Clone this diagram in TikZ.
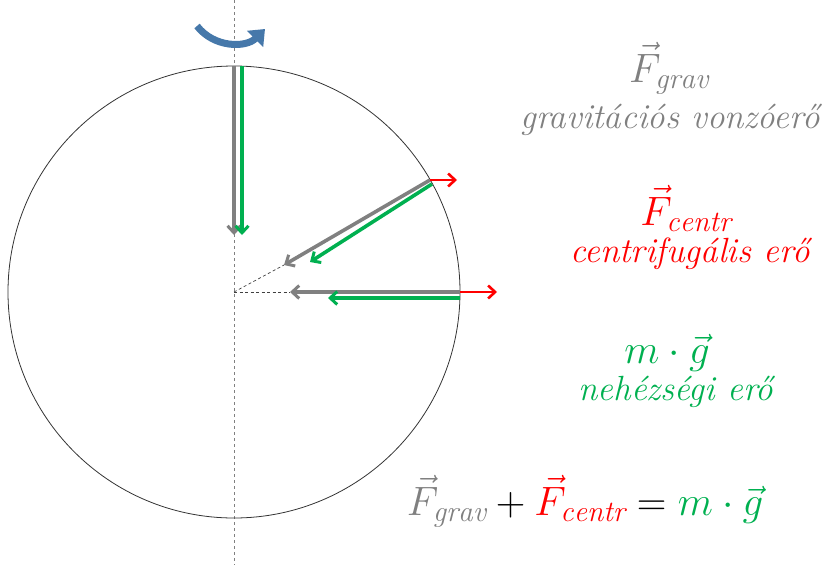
\documentclass[tikz,border=0pt]{standalone}
\usepackage{fix-cm}
\usepackage{fontspec}
\usetikzlibrary{arrows.meta}
\DeclareMathSizes{41}{41}{29.5}{22}
\definecolor{fgray}{RGB}{128,128,128}
\definecolor{fgreen}{RGB}{0,176,80}
\definecolor{fred}{RGB}{255,0,0}
\definecolor{rotblue}{RGB}{70,120,170}
\tikzset{
  vecarrow/.style={line width=3.6pt, -{Straight Barb[length=7pt,width=13pt,line width=3pt]}},
  gravarrow/.style={vecarrow, draw=fgray},
  greenarrow/.style={vecarrow, draw=fgreen},
  redarrow/.style={line width=2.6pt, draw=fred, -{Straight Barb[length=7pt,width=13pt,line width=2.6pt]}},
  axisline/.style={fgray, line width=0.8pt, dash pattern=on 3pt off 3pt},
  helpline/.style={black!75, line width=0.7pt, dash pattern=on 3pt off 2.5pt},
  lbl/.style={anchor=base, inner sep=0pt},
  mathlbl/.style={lbl, font=\fontsize{41}{46}\selectfont},
  textlbl/.style={lbl, font=\fontsize{35}{40}\selectfont\itshape},
}
\begin{document}
\begin{tikzpicture}[x=1pt,y=-1pt]
\useasboundingbox (0,0) rectangle (834,565);
% axis
\coordinate (axtop) at (234,0);
\coordinate (axbot) at (234,565);
\draw[axisline] (axtop) -- (axbot);
% circle
\coordinate (C) at (234,292);
\draw[black!80, line width=0.8pt] (C) circle[radius=226];
% rotation arrow
\coordinate (r1) at (197,26);
\coordinate (r2) at (265,29);
\draw[rotblue, line width=7pt, -{Triangle[length=14pt,width=22pt]}] (r1) .. controls (214,48) and (246,48) .. (r2);
% points
\coordinate (T) at (234,66);
\coordinate (Tg) at (242,66);
\coordinate (Ta) at (234,235);
\coordinate (Tga) at (242,235);
\coordinate (P) at (430,180);
\coordinate (Pg) at (432,184);
\coordinate (Pa) at (284,265);
\coordinate (Pga) at (310,262);
\coordinate (Pr) at (457,180);
\coordinate (Q) at (460,292);
\coordinate (Qg) at (460,298);
\coordinate (Qa) at (290,292);
\coordinate (Qga) at (328,298);
\coordinate (Qr) at (497,292);
% helper dashed lines
\draw[helpline] (C) -- (Pa);
\draw[helpline] (C) -- (Qa);
% arrows
\draw[gravarrow] (T) -- (Ta);
\draw[greenarrow] (Tg) -- (Tga);
\draw[gravarrow] (P) -- (Pa);
\draw[greenarrow] (Pg) -- (Pga);
\draw[redarrow] (P) -- (Pr);
\draw[gravarrow] (Q) -- (Qa);
\draw[greenarrow] (Qg) -- (Qga);
\draw[redarrow] (Q) -- (Qr);
% labels
\node[mathlbl, text=fgray] (lg) at (669,82) {$\vec{F}_{\mathit{grav}}$};
\node[textlbl, text=fgray] (tg) at (670,128) {gravitációs vonzóerő};
\node[mathlbl, text=fred] (lc) at (686,225) {$\vec{F}_{\mathit{centr}}$};
\node[textlbl, text=fred] (tc) at (690,262) {centrifugális erő};
\node[mathlbl, text=fgreen] (lm) at (667,363) {$m\cdot\vec{g}$};
\node[textlbl, text=fgreen] (tm) at (676,400) {nehézségi erő};
\node[mathlbl] (eq) at (585,515) {$\color{fgray}\vec{F}_{\mathit{grav}}\color{black}+\color{fred}\vec{F}_{\mathit{centr}}\color{black}=\color{fgreen}m\cdot\vec{g}$};
\end{tikzpicture}
\end{document}
